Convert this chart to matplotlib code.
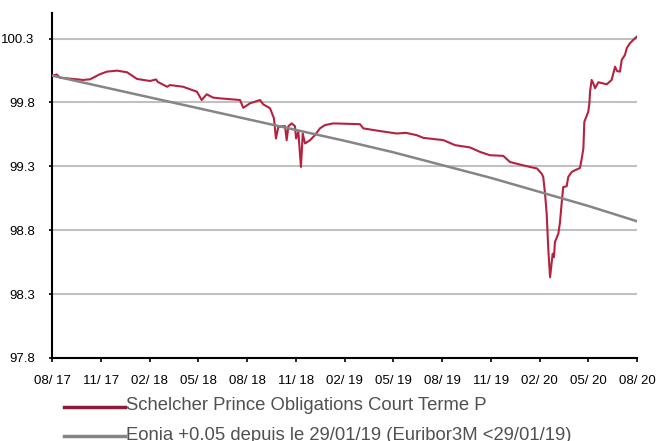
import matplotlib.pyplot as plt
from matplotlib.lines import Line2D

plt.rcParams['font.family'] = ['Liberation Sans', 'DejaVu Sans']

# x positions in months since 08/2017
red_months = [0, 0.29, 0.49, 1.29, 1.91, 2.34, 2.95, 3.38, 4.0, 4.62, 5.23, 6.03, 6.4, 6.52,
              7.08, 7.26, 8.06, 8.92, 9.21, 9.52, 9.91, 10.34, 11.57, 11.77, 12.18, 12.8,
              13.0, 13.42, 13.66, 13.78, 13.93, 14.34, 14.44, 14.55, 14.75, 14.95, 15.02,
              15.16, 15.32, 15.43, 15.57, 15.88, 16.18, 16.49, 16.8, 17.31, 18.95, 19.16,
              20.18, 21.21, 21.78, 22.44, 22.85, 24.08, 24.8, 25.72, 26.34, 26.95, 27.77,
              28.18, 28.8, 29.42, 29.85, 30.13, 30.23, 30.34, 30.44, 30.54, 30.65, 30.81,
              30.89, 30.95, 31.16, 31.26, 31.37, 31.46, 31.67, 31.77, 31.98, 32.18, 32.49,
              32.6, 32.7, 32.76, 33.0, 33.07, 33.11, 33.21, 33.31, 33.42, 33.62, 34.14,
              34.44, 34.65, 34.77, 34.95, 35.06, 35.26, 35.37, 35.57, 35.88, 36.0]
red_values = [100.007, 100.019, 99.994, 99.984, 99.976, 99.981, 100.021, 100.041, 100.049,
              100.036, 99.984, 99.968, 99.98, 99.96, 99.923, 99.936, 99.923, 99.884, 99.819,
              99.864, 99.838, 99.832, 99.819, 99.758, 99.793, 99.819, 99.785, 99.754, 99.675,
              99.518, 99.609, 99.615, 99.505, 99.615, 99.636, 99.615, 99.518, 99.57, 99.295,
              99.557, 99.479, 99.505, 99.544, 99.597, 99.623, 99.636, 99.63, 99.597, 99.576,
              99.557, 99.562, 99.544, 99.523, 99.505, 99.466, 99.448, 99.413, 99.387, 99.382,
              99.334, 99.314, 99.295, 99.283, 99.243, 99.217, 99.087, 98.932, 98.655, 98.432,
              98.616, 98.589, 98.707, 98.773, 98.861, 99.021, 99.138, 99.144, 99.217, 99.256,
              99.269, 99.287, 99.361, 99.44, 99.649, 99.727, 99.793, 99.884, 99.976, 99.95,
              99.911, 99.958, 99.942, 99.976, 100.08, 100.046, 100.041, 100.133, 100.172,
              100.225, 100.264, 100.303, 100.316]

grey_months = [0, 3, 6, 9, 12, 15, 18, 21, 24, 27, 30, 33, 36]
grey_values = [100.01, 99.925, 99.84, 99.755, 99.67, 99.585, 99.50, 99.41, 99.31, 99.21,
               99.10, 98.99, 98.87]

tick_months = [0, 3, 6, 9, 12, 15, 18, 21, 24, 27, 30, 33, 36]
tick_labels = ['08/ 17', '11/ 17', '02/ 18', '05/ 18', '08/ 18', '11/ 18', '02/ 19',
               '05/ 19', '08/ 19', '11/ 19', '02/ 20', '05/ 20', '08/ 20']
y_ticks = [97.8, 98.3, 98.8, 99.3, 99.8, 100.3]

series_names = ['Schelcher Prince Obligations Court Terme P',
                'Eonia +0.05 depuis le 29/01/19 (Euribor3M <29/01/19)']

W, H = 659, 441
fig = plt.figure(figsize=(W / 100, H / 100), dpi=100)
ax = fig.add_axes([52 / W, 1 - 358 / H, 585 / W, 345 / H])

ax.plot(red_months, red_values, color='#B5223F', lw=1.5, zorder=3)
ax.plot(grey_months, grey_values, color='#858585', lw=1.8, zorder=4)

ax.set_xlim(0, 36)
ax.set_ylim(97.8, 100.5)
ax.set_xticks(tick_months)
ax.set_xticklabels(tick_labels)
ax.set_yticks(y_ticks)
ax.set_yticklabels([f'{v:.1f}' for v in y_ticks])
ax.grid(axis='y', color='#C0C0C0', lw=1.5)
ax.set_axisbelow(True)

for s in ['top', 'right']:
    ax.spines[s].set_visible(False)
for s in ['left', 'bottom']:
    ax.spines[s].set_linewidth(1.5)
    ax.spines[s].set_color('black')

ax.tick_params(axis='x', length=3, width=1.2, pad=9, labelsize=9.5, colors='black')
ax.tick_params(axis='y', length=2.5, width=1.2, pad=10, labelsize=9.5, colors='black')

# legend under the chart
leg_colors = ['#8B1A3C', '#858585']
leg_y = [407, 436]
for name, c, y in zip(series_names, leg_colors, leg_y):
    fig.add_artist(Line2D([64 / W, 125 / W], [1 - y / H] * 2, transform=fig.transFigure,
                          color=c, lw=2.5))
    fig.text(126 / W, 1 - (y - 1) / H, name, fontsize=13.3, color='#505050',
             va='center', ha='left')

fig.savefig('out.png', dpi=100)
